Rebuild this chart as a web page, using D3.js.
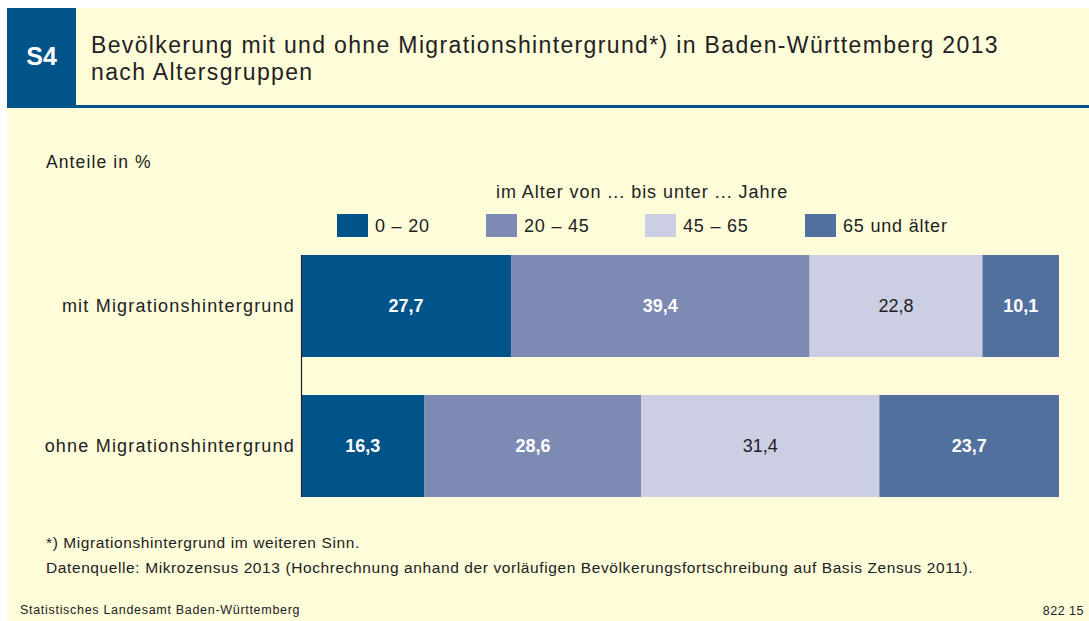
<!DOCTYPE html>
<html>
<head>
<meta charset="utf-8">
<script src="https://cdn.jsdelivr.net/npm/d3@7"></script>
<style>
  body { margin: 0; background: #fff; }
  svg { display: block; font-family: "Liberation Sans", Arial, Helvetica, sans-serif; }
</style>
</head>
<body>
<svg id="chart" width="1089" height="621"></svg>
<script>
// data
var groups = ['mit Migrationshintergrund', 'ohne Migrationshintergrund']
var ageClasses = ['0 – 20', '20 – 45', '45 – 65', '65 und älter']
var values = {
  'mit Migrationshintergrund': [27.7, 39.4, 22.8, 10.1],
  'ohne Migrationshintergrund': [16.3, 28.6, 31.4, 23.7]
}
var colors = ['#00548a', '#7d8ab3', '#cccfe3', '#52709e']
var labelColors = ['#fff', '#fff', '#222', '#fff']
var labelWeights = ['bold', 'bold', 'normal', 'bold']

var cream = '#fefcd9'
var blue = '#00548a'
var textCol = '#222'

var svg = d3.select('#chart')

function txt(x, y, size, spacing, s) {
  return svg.append('text').attr('x', x).attr('y', y).attr('fill', textCol)
    .attr('font-size', size).attr('letter-spacing', spacing).text(s)
}

// card background
svg.append('rect').attr('x', 7).attr('y', 8).attr('width', 1082).attr('height', 613).attr('fill', cream)

// header
svg.append('rect').attr('x', 7).attr('y', 8).attr('width', 69).attr('height', 97).attr('fill', blue)
svg.append('rect').attr('x', 7).attr('y', 105).attr('width', 1082).attr('height', 3).attr('fill', blue)
svg.append('text').attr('x', 41.5).attr('y', 65).attr('text-anchor', 'middle')
  .attr('fill', '#fff').attr('font-size', 25).attr('font-weight', 'bold').text('S4')
txt(91, 53, 23, 1.35, 'Bevölkerung mit und ohne Migrationshintergrund*) in Baden-Württemberg 2013')
txt(91, 80, 23, 1.35, 'nach Altersgruppen')

txt(46, 168, 17.5, 1.1, 'Anteile in %')

// legend
txt(496, 198, 18, 0.95, 'im Alter von ... bis unter ... Jahre')
var legendX = [337, 486, 645, 805]
var legend = svg.selectAll('.leg').data(ageClasses).enter().append('g').attr('class', 'leg')
  .attr('transform', function(d, i) { return 'translate(' + legendX[i] + ',214)' })
legend.append('rect').attr('width', 31).attr('height', 23).attr('fill', function(d, i) { return colors[i] })
legend.append('text').attr('x', 38).attr('y', 18).attr('fill', textCol).attr('font-size', 18)
  .attr('letter-spacing', 0.8).text(function(d) { return d })

// scales
var x = d3.scaleLinear().domain([0, 100]).range([301, 1059])
var y = d3.scaleBand().domain(groups).range([255, 497]).paddingInner(0.2714).paddingOuter(0)

var rows = svg.selectAll('.row').data(groups).enter().append('g').attr('class', 'row')

rows.each(function(g) {
  var row = d3.select(this)
  var cum = 0
  var segs = values[g].map(function(v, i) {
    var s = {v: v, i: i, x0: cum, x1: cum + v}
    cum += v
    return s
  })
  row.selectAll('rect').data(segs).enter().append('rect')
    .attr('x', function(d) { return x(d.x0) })
    .attr('y', y(g))
    .attr('width', function(d) { return x(d.x1) - x(d.x0) })
    .attr('height', y.bandwidth())
    .attr('fill', function(d) { return colors[d.i] })
  row.selectAll('text.val').data(segs).enter().append('text').attr('class', 'val')
    .attr('x', function(d) { return (x(d.x0) + x(d.x1)) / 2 })
    .attr('y', y(g) + y.bandwidth() / 2 + 6)
    .attr('text-anchor', 'middle')
    .attr('font-size', 18)
    .attr('font-weight', function(d) { return labelWeights[d.i] })
    .attr('fill', function(d) { return labelColors[d.i] })
    .text(function(d) { return d3.format('.1f')(d.v).replace('.', ',') })
  row.append('text').attr('x', 295).attr('y', y(g) + y.bandwidth() / 2 + 6)
    .attr('text-anchor', 'end').attr('fill', textCol).attr('font-size', 18)
    .attr('letter-spacing', 1.2).text(g)
})

// axis line
svg.append('line').attr('x1', 301.5).attr('x2', 301.5).attr('y1', 255).attr('y2', 497)
  .attr('stroke', '#222').attr('stroke-width', 1.2)

// footnotes
txt(46, 548, 15.5, 0.6, '*) Migrationshintergrund im weiteren Sinn.')
txt(46, 573, 15.5, 0.6, 'Datenquelle: Mikrozensus 2013 (Hochrechnung anhand der vorläufigen Bevölkerungsfortschreibung auf Basis Zensus 2011).')
txt(20, 614, 12.5, 0.7, 'Statistisches Landesamt Baden-Württemberg')
txt(1084, 615, 12.5, 0.5, '822 15').attr('text-anchor', 'end')
</script>
</body>
</html>
